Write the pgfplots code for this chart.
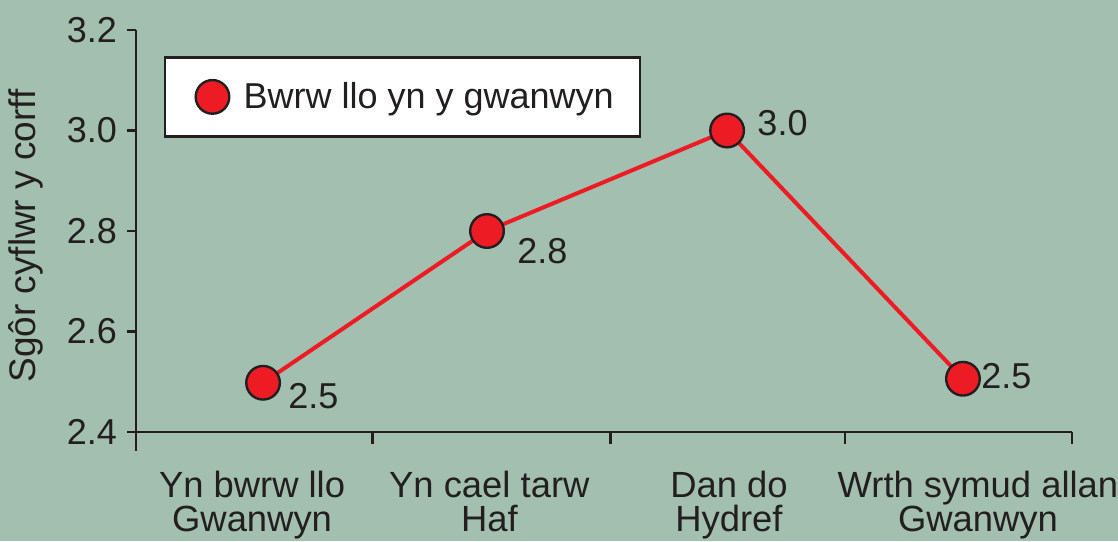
\documentclass[border=0pt]{standalone}
\usepackage{fontspec}
\setmainfont{Liberation Sans}
\usepackage{pgfplots}
\pgfplotsset{compat=1.18}
\definecolor{bg}{RGB}{162,191,176}
\definecolor{myred}{RGB}{237,28,36}
\definecolor{ink}{RGB}{35,31,32}
\begin{document}
\begin{tikzpicture}
\fill[bg] (-68pt,-54.5pt) rectangle (491pt,216pt);
\begin{axis}[
  scale only axis, width=468pt, height=201pt,
  xmin=0, xmax=4, ymin=2.4, ymax=3.2,
  clip=false,
  axis x line=bottom, axis y line=left,
  axis line style={ink, line width=1.2pt, -},
  every outer x axis line/.append style={-},
  every outer y axis line/.append style={-},
  every tick/.style={ink, line width=1.2pt},
  tick align=outside,
  major tick length=4.5pt,
  minor tick length=6pt,
  xtick={0.496,1.51,2.534,3.598},
  xticklabels={{Yn bwrw llo\\Gwanwyn},{Yn cael tarw\\Haf},{Dan do\\Hydref},{Wrth symud allan\\Gwanwyn}},
  xticklabel style={align=center, font=\fontsize{18.2}{16.9}\selectfont, text=ink, yshift=-11.5pt},
  major x tick style={draw=none},
  minor xtick={0,1.0115,2.0286,3.03,4},
  ytick={2.4,2.6,2.8,3.0,3.2},
  /pgf/number format/assume math mode=true,
  yticklabel style={font=\fontsize{18}{20}\selectfont, text=ink, xshift=-1.5pt,
    /pgf/number format/fixed, /pgf/number format/fixed zerofill, /pgf/number format/precision=1},
  ylabel={Sgôr cyflwr y corff},
  ylabel style={font=\fontsize{18.5}{20}\selectfont, text=ink, yshift=4.8pt, xshift=-2.5pt},
  legend style={at={(0.03,0.935)}, anchor=north west, draw=ink, line width=1.2pt, fill=white,
    font=\fontsize{18}{21}\selectfont, text=ink, inner xsep=11pt, inner ysep=10.5pt},
  legend cell align=left,
  legend image code/.code={\path (0pt,0pt) (25pt,0pt); \draw[#1] plot coordinates {(12pt,0pt)};},
]
\addplot[myred, line width=2pt, mark=*, mark size=8.4pt,
  mark options={fill=myred, draw=ink, line width=1.2pt}, forget plot]
  coordinates {(0.543,2.498)(1.5,2.8)(2.526,3.0)(3.534,2.506)};
\addlegendimage{only marks, mark=*, mark size=8.4pt, mark options={fill=myred, draw=ink, line width=1.2pt}}
\addlegendentry{Bwrw llo yn y gwanwyn}
\draw[ink, line width=1.2pt] (rel axis cs:0,0) -- ++(0pt,-9.5pt);
\node[anchor=west, font=\fontsize{18}{20}\selectfont, text=ink, inner sep=0pt] at (axis cs:0.543,2.498) [xshift=12.5pt, yshift=-6.5pt] {2.5};
\node[anchor=west, font=\fontsize{18}{20}\selectfont, text=ink, inner sep=0pt] at (axis cs:1.5,2.8) [xshift=15pt, yshift=-10pt] {2.8};
\node[anchor=west, font=\fontsize{18}{20}\selectfont, text=ink, inner sep=0pt] at (axis cs:2.526,3.0) [xshift=15pt, yshift=3.5pt] {3.0};
\node[anchor=west, font=\fontsize{18}{20}\selectfont, text=ink, inner sep=0pt] at (axis cs:3.534,2.506) [xshift=9pt, yshift=1.5pt] {2.5};
\end{axis}
\pgfresetboundingbox
\path (-68pt,-54.5pt) rectangle (491pt,216pt);
\end{tikzpicture}
\end{document}
